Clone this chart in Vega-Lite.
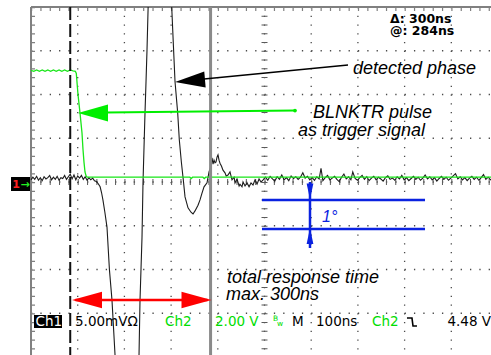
{
  "$schema": "https://vega.github.io/schema/vega-lite/v6.json",
  "width": 491,
  "height": 355,
  "padding": 0,
  "autosize": {"type": "none"},
  "background": "white",
  "config": {"view": {"stroke": null}},
  "datasets": {
    "vgrid": [
      {"t": 0, "t2": 0, "d": 4, "d2": -4}, {"t": 100, "t2": 100, "d": 4, "d2": -4},
      {"t": 200, "t2": 200, "d": 4, "d2": -4}, {"t": 300, "t2": 300, "d": 4, "d2": -4},
      {"t": 400, "t2": 400, "d": 4, "d2": -4}, {"t": 500, "t2": 500, "d": 4, "d2": -4},
      {"t": 600, "t2": 600, "d": 4, "d2": -4}, {"t": 700, "t2": 700, "d": 4, "d2": -4},
      {"t": 800, "t2": 800, "d": 4, "d2": -4}
    ],
    "hgrid": [
      {"t": -100, "t2": 900, "d": 3, "d2": 3}, {"t": -100, "t2": 900, "d": 2, "d2": 2},
      {"t": -100, "t2": 900, "d": 1, "d2": 1}, {"t": -100, "t2": 900, "d": 0, "d2": 0},
      {"t": -100, "t2": 900, "d": -1, "d2": -1}, {"t": -100, "t2": 900, "d": -2, "d2": -2},
      {"t": -100, "t2": 900, "d": -3, "d2": -3}
    ],
    "ch1": [
      {"t": -100, "d": 0.05, "seg": "a"}, {"t": -96, "d": 0.11, "seg": "a"}, {"t": -92, "d": 0.06, "seg": "a"},
      {"t": -88, "d": 0.13, "seg": "a"}, {"t": -84, "d": 0.04, "seg": "a"}, {"t": -80, "d": 0.10, "seg": "a"},
      {"t": -76, "d": 0.03, "seg": "a"}, {"t": -72, "d": 0.12, "seg": "a"}, {"t": -68, "d": 0.07, "seg": "a"},
      {"t": -64, "d": 0.10, "seg": "a"}, {"t": -60, "d": 0.15, "seg": "a"}, {"t": -56, "d": 0.05, "seg": "a"},
      {"t": -52, "d": 0.11, "seg": "a"}, {"t": -48, "d": 0.06, "seg": "a"}, {"t": -44, "d": 0.13, "seg": "a"},
      {"t": -40, "d": 0.04, "seg": "a"}, {"t": -36, "d": 0.10, "seg": "a"}, {"t": -32, "d": 0.08, "seg": "a"},
      {"t": -28, "d": 0.15, "seg": "a"}, {"t": -24, "d": 0.06, "seg": "a"}, {"t": -20, "d": 0.12, "seg": "a"},
      {"t": -16, "d": 0.18, "seg": "a"}, {"t": -12, "d": 0.07, "seg": "a"}, {"t": -8, "d": 0.16, "seg": "a"},
      {"t": -4, "d": 0.05, "seg": "a"}, {"t": 0, "d": 0.14, "seg": "a"}, {"t": 4, "d": 0.09, "seg": "a"},
      {"t": 8, "d": 0.15, "seg": "a"}, {"t": 12, "d": 0.06, "seg": "a"}, {"t": 16, "d": 0.12, "seg": "a"},
      {"t": 20, "d": 0.04, "seg": "a"}, {"t": 24, "d": 0.10, "seg": "a"}, {"t": 28, "d": 0.05, "seg": "a"},
      {"t": 32, "d": 0.09, "seg": "a"}, {"t": 36, "d": 0.03, "seg": "a"}, {"t": 40, "d": 0.01, "seg": "a"},
      {"t": 44, "d": -0.04, "seg": "a"}, {"t": 48, "d": -0.11, "seg": "a"}, {"t": 51, "d": -0.24, "seg": "a"},
      {"t": 54, "d": -0.41, "seg": "a"}, {"t": 58, "d": -0.68, "seg": "a"}, {"t": 62.7, "d": -1.03, "seg": "a"},
      {"t": 67.9, "d": -2.0, "seg": "a"}, {"t": 73.4, "d": -2.7, "seg": "a"}, {"t": 79.9, "d": -3.95, "seg": "a"},
      {"t": 84, "d": -4.6, "seg": "a"}, {"t": 106, "d": -6.5, "seg": "a"}, {"t": 128, "d": -4.6, "seg": "a"},
      {"t": 131.3, "d": -3.95, "seg": "a"}, {"t": 133.4, "d": -2.7, "seg": "a"}, {"t": 135.5, "d": -2.0, "seg": "a"},
      {"t": 137.7, "d": -1.26, "seg": "a"}, {"t": 139.8, "d": -0.02, "seg": "a"}, {"t": 142, "d": 0.8, "seg": "a"},
      {"t": 144.1, "d": 1.58, "seg": "a"}, {"t": 146.3, "d": 2.3, "seg": "a"}, {"t": 148.4, "d": 3.02, "seg": "a"},
      {"t": 150.8, "d": 4.0, "seg": "a"},
      {"t": 201.3, "d": 4.0, "seg": "b"}, {"t": 205, "d": 3.1, "seg": "b"}, {"t": 208.4, "d": 2.29, "seg": "b"},
      {"t": 214.1, "d": 1.58, "seg": "b"}, {"t": 217.6, "d": 0.96, "seg": "b"}, {"t": 222, "d": 0.45, "seg": "b"},
      {"t": 226.1, "d": 0.05, "seg": "b"}, {"t": 229.8, "d": -0.34, "seg": "b"}, {"t": 236.2, "d": -0.59, "seg": "b"},
      {"t": 242.6, "d": -0.69, "seg": "b"}, {"t": 246.9, "d": -0.73, "seg": "b"}, {"t": 251.2, "d": -0.66, "seg": "b"},
      {"t": 257.6, "d": -0.53, "seg": "b"}, {"t": 261.9, "d": -0.41, "seg": "b"}, {"t": 266, "d": -0.26, "seg": "b"},
      {"t": 270.5, "d": -0.11, "seg": "b"}, {"t": 276.9, "d": -0.02, "seg": "b"}, {"t": 281.2, "d": 0.23, "seg": "b"},
      {"t": 285.5, "d": 0.37, "seg": "b"}, {"t": 287.6, "d": 0.55, "seg": "b"}, {"t": 289.8, "d": 0.41, "seg": "b"},
      {"t": 291.9, "d": 0.5, "seg": "b"}, {"t": 294, "d": 0.44, "seg": "b"}, {"t": 296.2, "d": 0.46, "seg": "b"},
      {"t": 298.3, "d": 0.57, "seg": "b"}, {"t": 300.4, "d": 0.62, "seg": "b"}, {"t": 302.6, "d": 0.5, "seg": "b"},
      {"t": 304.7, "d": 0.43, "seg": "b"}, {"t": 308, "d": 0.36, "seg": "b"}, {"t": 311.1, "d": 0.27, "seg": "b"},
      {"t": 315.4, "d": 0.21, "seg": "b"}, {"t": 318, "d": 0.14, "seg": "b"}, {"t": 321.8, "d": 0.16, "seg": "b"},
      {"t": 326.1, "d": 0.23, "seg": "b"}, {"t": 330.4, "d": 0.05, "seg": "b"}, {"t": 334.9, "d": 0.11, "seg": "b"},
      {"t": 336.8, "d": -0.02, "seg": "b"}, {"t": 341.1, "d": 0.07, "seg": "b"}, {"t": 345.6, "d": -0.09, "seg": "b"},
      {"t": 347.5, "d": -0.05, "seg": "b"}, {"t": 351.8, "d": -0.11, "seg": "b"}, {"t": 354, "d": 0.0, "seg": "b"},
      {"t": 358.3, "d": -0.09, "seg": "b"}, {"t": 362.6, "d": -0.02, "seg": "b"}, {"t": 366.9, "d": -0.11, "seg": "b"},
      {"t": 371.1, "d": -0.02, "seg": "b"}, {"t": 375.4, "d": -0.07, "seg": "b"}, {"t": 379.7, "d": 0.05, "seg": "b"},
      {"t": 384, "d": -0.05, "seg": "b"}, {"t": 388.3, "d": 0.07, "seg": "b"}, {"t": 392.6, "d": 0.0, "seg": "b"},
      {"t": 397, "d": 0.05, "seg": "b"}, {"t": 402, "d": 0.11, "seg": "b"}, {"t": 407, "d": 0.04, "seg": "b"},
      {"t": 412, "d": 0.13, "seg": "b"}, {"t": 417, "d": 0.07, "seg": "b"}, {"t": 422, "d": 0.02, "seg": "b"},
      {"t": 427, "d": 0.12, "seg": "b"}, {"t": 432, "d": 0.06, "seg": "b"}, {"t": 437, "d": 0.16, "seg": "b"},
      {"t": 442, "d": 0.05, "seg": "b"}, {"t": 447, "d": 0.10, "seg": "b"}, {"t": 452, "d": 0.03, "seg": "b"},
      {"t": 457, "d": 0.14, "seg": "b"}, {"t": 462, "d": 0.08, "seg": "b"}, {"t": 467, "d": 0.12, "seg": "b"},
      {"t": 472, "d": 0.06, "seg": "b"}, {"t": 477, "d": 0.11, "seg": "b"}, {"t": 482, "d": 0.21, "seg": "b"},
      {"t": 487, "d": 0.09, "seg": "b"}, {"t": 492, "d": 0.13, "seg": "b"}, {"t": 497, "d": 0.05, "seg": "b"},
      {"t": 502, "d": 0.10, "seg": "b"}, {"t": 507, "d": 0.04, "seg": "b"}, {"t": 512, "d": 0.12, "seg": "b"},
      {"t": 517, "d": 0.07, "seg": "b"}, {"t": 521, "d": 0.31, "seg": "b"}, {"t": 525, "d": 0.03, "seg": "b"},
      {"t": 530, "d": 0.10, "seg": "b"}, {"t": 535, "d": 0.15, "seg": "b"}, {"t": 540, "d": 0.05, "seg": "b"},
      {"t": 545, "d": 0.09, "seg": "b"}, {"t": 550, "d": 0.13, "seg": "b"}, {"t": 555, "d": 0.06, "seg": "b"},
      {"t": 560, "d": 0.01, "seg": "b"}, {"t": 565, "d": 0.11, "seg": "b"}, {"t": 570, "d": 0.18, "seg": "b"},
      {"t": 575, "d": 0.07, "seg": "b"}, {"t": 580, "d": 0.12, "seg": "b"}, {"t": 585, "d": 0.05, "seg": "b"},
      {"t": 589, "d": 0.23, "seg": "b"}, {"t": 594, "d": 0.08, "seg": "b"}, {"t": 599, "d": 0.04, "seg": "b"},
      {"t": 604, "d": 0.10, "seg": "b"}, {"t": 609, "d": 0.15, "seg": "b"}, {"t": 614, "d": 0.06, "seg": "b"},
      {"t": 619, "d": 0.12, "seg": "b"}, {"t": 624, "d": 0.03, "seg": "b"}, {"t": 629, "d": 0.09, "seg": "b"},
      {"t": 634, "d": 0.13, "seg": "b"}, {"t": 639, "d": 0.05, "seg": "b"}, {"t": 644, "d": 0.11, "seg": "b"},
      {"t": 649, "d": 0.07, "seg": "b"}, {"t": 654, "d": 0.02, "seg": "b"}, {"t": 659, "d": 0.10, "seg": "b"},
      {"t": 664, "d": 0.14, "seg": "b"}, {"t": 669, "d": 0.06, "seg": "b"}, {"t": 674, "d": 0.09, "seg": "b"},
      {"t": 679, "d": 0.04, "seg": "b"}, {"t": 684, "d": 0.12, "seg": "b"}, {"t": 689, "d": 0.07, "seg": "b"},
      {"t": 694, "d": 0.15, "seg": "b"}, {"t": 699, "d": 0.05, "seg": "b"}, {"t": 704, "d": 0.10, "seg": "b"},
      {"t": 709, "d": 0.03, "seg": "b"}, {"t": 714, "d": 0.08, "seg": "b"}, {"t": 719, "d": 0.13, "seg": "b"},
      {"t": 724, "d": 0.06, "seg": "b"}, {"t": 729, "d": 0.11, "seg": "b"}, {"t": 734, "d": 0.04, "seg": "b"},
      {"t": 739, "d": 0.09, "seg": "b"}, {"t": 744, "d": 0.16, "seg": "b"}, {"t": 749, "d": 0.07, "seg": "b"},
      {"t": 754, "d": 0.12, "seg": "b"}, {"t": 759, "d": 0.05, "seg": "b"}, {"t": 764, "d": 0.10, "seg": "b"},
      {"t": 769, "d": 0.02, "seg": "b"}, {"t": 774, "d": 0.08, "seg": "b"}, {"t": 779, "d": 0.13, "seg": "b"},
      {"t": 784, "d": 0.06, "seg": "b"}, {"t": 789, "d": 0.11, "seg": "b"}, {"t": 794, "d": 0.04, "seg": "b"},
      {"t": 799, "d": 0.09, "seg": "b"}, {"t": 804, "d": 0.14, "seg": "b"}, {"t": 809, "d": 0.19, "seg": "b"},
      {"t": 814, "d": 0.07, "seg": "b"}, {"t": 819, "d": 0.12, "seg": "b"}, {"t": 824, "d": 0.05, "seg": "b"},
      {"t": 829, "d": 0.10, "seg": "b"}, {"t": 834, "d": 0.03, "seg": "b"}, {"t": 839, "d": 0.09, "seg": "b"},
      {"t": 844, "d": 0.13, "seg": "b"}, {"t": 849, "d": 0.06, "seg": "b"}, {"t": 854, "d": 0.11, "seg": "b"},
      {"t": 859, "d": 0.04, "seg": "b"}, {"t": 864, "d": 0.10, "seg": "b"}, {"t": 869, "d": 0.17, "seg": "b"},
      {"t": 874, "d": 0.06, "seg": "b"}, {"t": 879, "d": 0.11, "seg": "b"}, {"t": 884, "d": 0.05, "seg": "b"},
      {"t": 888, "d": 0.09, "seg": "b"}
    ],
    "ch2": [
      {"t": -100, "d": 2.55}, {"t": -94, "d": 2.53}, {"t": -88, "d": 2.56}, {"t": -82, "d": 2.53},
      {"t": -76, "d": 2.56}, {"t": -70, "d": 2.53}, {"t": -64, "d": 2.56}, {"t": -58, "d": 2.53},
      {"t": -52, "d": 2.56}, {"t": -46, "d": 2.53}, {"t": -40, "d": 2.56}, {"t": -34, "d": 2.53},
      {"t": -28, "d": 2.56}, {"t": -22, "d": 2.53}, {"t": -16, "d": 2.56}, {"t": -10, "d": 2.54},
      {"t": -5, "d": 2.53}, {"t": -3, "d": 2.48}, {"t": 0.6, "d": 2.0}, {"t": 4.9, "d": 1.58},
      {"t": 9.2, "d": 1.12}, {"t": 11.3, "d": 0.75}, {"t": 13.5, "d": 0.45}, {"t": 15.6, "d": 0.23},
      {"t": 18, "d": 0.14}, {"t": 20, "d": 0.11}, {"t": 240, "d": 0.11}, {"t": 243, "d": 0.08},
      {"t": 246, "d": 0.11}, {"t": 268, "d": 0.11}, {"t": 271, "d": 0.08}, {"t": 274, "d": 0.11},
      {"t": 888, "d": 0.11}
    ],
    "italic": [
      {"t": 589.5, "d": 2.469, "label": "detected phase"},
      {"t": 503.7, "d": 1.463, "label": "BLNKTR pulse"},
      {"t": 471.6, "d": 1.051, "label": "as trigger signal"},
      {"t": 319.7, "d": -2.309, "label": "total response time"},
      {"t": 317.6, "d": -2.697, "label": "max. 300ns"}
    ],
    "readout": [
      {"t": 668.7, "d": 3.63, "label": "Δ: 300ns"},
      {"t": 668.7, "d": 3.35, "label": "@: 284ns"}
    ],
    "statusBlack": [
      {"t": -5.8, "d": -3.291, "label": "5.00mVΩ"},
      {"t": 458.9, "d": -3.291, "label": "M"},
      {"t": 510.3, "d": -3.291, "label": "100ns"},
      {"t": 791.7, "d": -3.291, "label": "4.48 V"}
    ],
    "statusGreen": [
      {"t": 186.9, "d": -3.291, "label": "Ch2"},
      {"t": 294.0, "d": -3.291, "label": "2.00 V"},
      {"t": 630.2, "d": -3.291, "label": "Ch2"}
    ]
  },
  "encoding": {
    "x": {"field": "t", "type": "quantitative", "scale": {"domain": [-166.4, 885.0], "nice": false, "zero": false}, "axis": null},
    "y": {"field": "d", "type": "quantitative", "scale": {"domain": [-3.954, 4.16], "nice": false, "zero": false}, "axis": null}
  },
  "layer": [
    {
      "data": {"name": "vgrid"},
      "mark": {"type": "rule", "color": "#4a4a4a", "strokeWidth": 1.3, "strokeDash": [1.3, 7.45]},
      "encoding": {"x2": {"field": "t2"}, "y2": {"field": "d2"}}
    },
    {
      "data": {"name": "hgrid"},
      "mark": {"type": "rule", "color": "#4a4a4a", "strokeWidth": 1.3, "strokeDash": [1.3, 8.04]},
      "encoding": {"x2": {"field": "t2"}, "y2": {"field": "d2"}}
    },
    {
      "data": {"values": [{"t": 400, "t2": 400, "d": 4, "d2": -4}]},
      "mark": {"type": "rule", "color": "#5a5a5a", "strokeWidth": 6, "strokeDash": [1, 7.75]},
      "encoding": {"x2": {"field": "t2"}, "y2": {"field": "d2"}}
    },
    {
      "data": {"values": [{"t": -100, "t2": 900, "d": 0, "d2": 0}]},
      "mark": {"type": "rule", "color": "#5a5a5a", "strokeWidth": 6, "strokeDash": [1, 8.34]},
      "encoding": {"x2": {"field": "t2"}, "y2": {"field": "d2"}}
    },
    {
      "data": {"values": [{"t": -100, "t2": 900, "d": 4, "d2": 4}, {"t": -100, "t2": -100, "d": 4, "d2": -4}]},
      "mark": {"type": "rule", "color": "#808080", "strokeWidth": 2},
      "encoding": {"x2": {"field": "t2"}, "y2": {"field": "d2"}}
    },
    {
      "data": {"values": [{"t": -100, "t2": 900, "d": 3.954, "d2": 3.954}]},
      "mark": {"type": "rule", "color": "#808080", "strokeWidth": 4, "strokeDash": [1.2, 8.14]},
      "encoding": {"x2": {"field": "t2"}, "y2": {"field": "d2"}}
    },
    {
      "data": {"values": [{"t": -95.7, "t2": -95.7, "d": 4, "d2": -4}]},
      "mark": {"type": "rule", "color": "#808080", "strokeWidth": 4, "strokeDash": [1.2, 7.55]},
      "encoding": {"x2": {"field": "t2"}, "y2": {"field": "d2"}}
    },
    {
      "data": {"name": "ch1"},
      "mark": {"type": "line", "color": "#1c1c1c", "strokeWidth": 1.1, "clip": true},
      "encoding": {"detail": {"field": "seg", "type": "nominal"}, "order": {"field": "t", "type": "quantitative"}}
    },
    {
      "data": {"name": "ch2"},
      "mark": {"type": "line", "color": "#19e619", "strokeWidth": 1.3, "clip": true},
      "encoding": {"order": {"field": "t", "type": "quantitative"}}
    },
    {
      "data": {"values": [{"t": -16, "t2": -16, "d": 4, "d2": -4}]},
      "mark": {"type": "rule", "color": "#111111", "strokeWidth": 2, "strokeDash": [13, 4]},
      "encoding": {"x2": {"field": "t2"}, "y2": {"field": "d2"}}
    },
    {
      "data": {"values": [{"t": 284.5, "t2": 284.5, "d": 4, "d2": -4}]},
      "mark": {"type": "rule", "color": "#8a8a8a", "strokeWidth": 3},
      "encoding": {"x2": {"field": "t2"}, "y2": {"field": "d2"}}
    },
    {
      "data": {"values": [{"t": 270.5, "t2": 578.8, "d": 2.354, "d2": 2.674}]},
      "mark": {"type": "rule", "color": "#000000", "strokeWidth": 1.5},
      "encoding": {"x2": {"field": "t2"}, "y2": {"field": "d2"}}
    },
    {
      "data": {"values": [{"t": 240.5, "d": 2.314}]},
      "mark": {"type": "point", "shape": "M-1,0L1,-0.53L1,0.53Z", "size": 900, "filled": true, "color": "#000000", "opacity": 1, "strokeWidth": 0, "angle": 355}
    },
    {
      "data": {"values": [{"t": 60, "t2": 465.3, "d": 1.589, "d2": 1.634}]},
      "mark": {"type": "rule", "color": "#00ee00", "strokeWidth": 2},
      "encoding": {"x2": {"field": "t2"}, "y2": {"field": "d2"}}
    },
    {
      "data": {"values": [{"t": 32.8, "d": 1.577}]},
      "mark": {"type": "point", "shape": "M-1,0L1,-0.57L1,0.57Z", "size": 900, "filled": true, "color": "#00ee00", "opacity": 1, "strokeWidth": 0}
    },
    {
      "data": {"values": [{"t": 465.3, "d": 1.634}]},
      "mark": {"type": "point", "shape": "circle", "size": 14, "filled": true, "color": "#00ee00", "opacity": 1}
    },
    {
      "data": {"values": [{"t": -5, "t2": 278, "d": -2.697, "d2": -2.697}]},
      "mark": {"type": "rule", "color": "#ff0000", "strokeWidth": 2.5},
      "encoding": {"x2": {"field": "t2"}, "y2": {"field": "d2"}}
    },
    {
      "data": {"values": [{"t": 19.9, "d": -2.697}]},
      "mark": {"type": "point", "shape": "M-1,0L1,-0.55L1,0.55Z", "size": 900, "filled": true, "color": "#ff0000", "opacity": 1, "strokeWidth": 0}
    },
    {
      "data": {"values": [{"t": 254.4, "d": -2.697}]},
      "mark": {"type": "point", "shape": "M1,0L-1,-0.55L-1,0.55Z", "size": 900, "filled": true, "color": "#ff0000", "opacity": 1, "strokeWidth": 0}
    },
    {
      "data": {"values": [
        {"t": 394.6, "t2": 743.7, "d": -0.411, "d2": -0.411},
        {"t": 394.6, "t2": 743.7, "d": -1.074, "d2": -1.074},
        {"t": 497.4, "t2": 497.4, "d": 0.0, "d2": -1.509}
      ]},
      "mark": {"type": "rule", "color": "#0a22e0", "strokeWidth": 2.5},
      "encoding": {"x2": {"field": "t2"}, "y2": {"field": "d2"}}
    },
    {
      "data": {"values": [{"t": 497.4, "d": -0.217}]},
      "mark": {"type": "point", "shape": "M0,1L-0.42,-1L0.42,-1Z", "size": 256, "filled": true, "color": "#0a22e0", "opacity": 1, "strokeWidth": 0}
    },
    {
      "data": {"values": [{"t": 497.4, "d": -1.234}]},
      "mark": {"type": "point", "shape": "M0,-1L-0.42,1L0.42,1Z", "size": 256, "filled": true, "color": "#0a22e0", "opacity": 1, "strokeWidth": 0}
    },
    {
      "data": {"name": "italic"},
      "mark": {"type": "text", "font": "Liberation Sans", "fontStyle": "italic", "fontSize": 18, "align": "left", "baseline": "alphabetic", "color": "#000000"},
      "encoding": {"text": {"field": "label"}}
    },
    {
      "data": {"values": [{"t": 523.1, "d": -0.914, "label": "1°"}]},
      "mark": {"type": "text", "font": "Liberation Sans", "fontStyle": "italic", "fontSize": 16, "align": "left", "baseline": "alphabetic", "color": "#0a22e0"},
      "encoding": {"text": {"field": "label"}}
    },
    {
      "data": {"name": "readout"},
      "mark": {"type": "text", "font": "DejaVu Sans", "fontWeight": "bold", "fontSize": 12.5, "align": "left", "baseline": "alphabetic", "color": "#000000"},
      "encoding": {"text": {"field": "label"}}
    },
    {
      "data": {"values": [{"t": -93.6, "t2": -33.6, "d": -3.04, "d2": -3.337}]},
      "mark": {"type": "rect", "color": "#000000"},
      "encoding": {"x2": {"field": "t2"}, "y2": {"field": "d2"}}
    },
    {
      "data": {"values": [{"t": -90.4, "d": -3.291, "label": "Ch1"}]},
      "mark": {"type": "text", "font": "DejaVu Sans", "fontSize": 13.5, "align": "left", "baseline": "alphabetic", "color": "#ffffff"},
      "encoding": {"text": {"field": "label"}}
    },
    {
      "data": {"name": "statusBlack"},
      "mark": {"type": "text", "font": "DejaVu Sans", "fontSize": 13.5, "align": "left", "baseline": "alphabetic", "color": "#000000"},
      "encoding": {"text": {"field": "label"}}
    },
    {
      "data": {"name": "statusGreen"},
      "mark": {"type": "text", "font": "DejaVu Sans", "fontSize": 13.5, "align": "left", "baseline": "alphabetic", "color": "#00dd00"},
      "encoding": {"text": {"field": "label"}}
    },
    {
      "data": {"values": [{"t": 418.2, "d": -3.177, "label": "B"}, {"t": 427, "d": -3.28, "label": "w"}]},
      "mark": {"type": "text", "font": "DejaVu Sans", "fontSize": 7.5, "align": "left", "baseline": "alphabetic", "color": "#00dd00"},
      "encoding": {"text": {"field": "label"}}
    },
    {
      "data": {"values": [{"t": 705.1, "d": -3.109}, {"t": 715.8, "d": -3.109}, {"t": 718.0, "d": -3.291}, {"t": 726.5, "d": -3.291}]},
      "mark": {"type": "line", "color": "#000000", "strokeWidth": 1.6},
      "encoding": {"order": {"field": "t", "type": "quantitative"}}
    },
    {
      "data": {"values": [{"t": -142.8, "t2": -102.1, "d": 0.114, "d2": -0.206}]},
      "mark": {"type": "rect", "color": "#000000"},
      "encoding": {"x2": {"field": "t2"}, "y2": {"field": "d2"}}
    },
    {
      "data": {"values": [{"t": -132.1, "d": -0.137, "label": "1"}]},
      "mark": {"type": "text", "font": "DejaVu Sans", "fontWeight": "bold", "fontSize": 11, "align": "center", "baseline": "alphabetic", "color": "#ff2020"},
      "encoding": {"text": {"field": "label"}}
    },
    {
      "data": {"values": [{"t": -112.8, "d": -0.137, "label": "→"}]},
      "mark": {"type": "text", "font": "DejaVu Sans", "fontWeight": "bold", "fontSize": 11, "align": "center", "baseline": "alphabetic", "color": "#22ee22"},
      "encoding": {"text": {"field": "label"}}
    }
  ]
}
